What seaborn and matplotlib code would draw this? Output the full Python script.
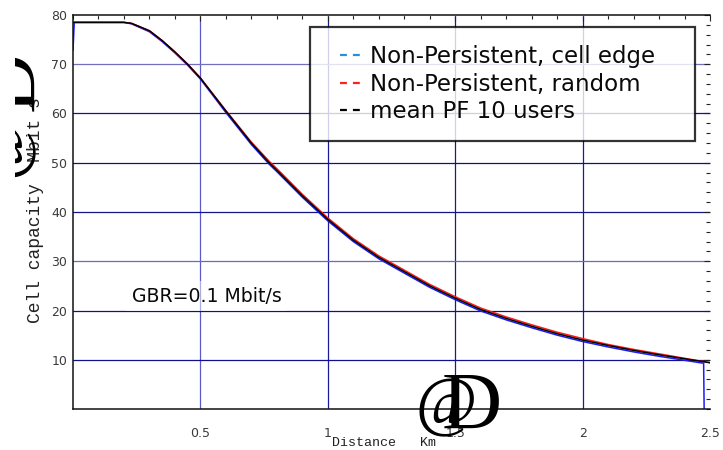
import numpy as np
import pandas as pd
import matplotlib
matplotlib.use("Agg")
import matplotlib.pyplot as plt
from matplotlib.lines import Line2D
from matplotlib.ticker import MultipleLocator, FixedLocator
from matplotlib.transforms import Bbox, TransformedBbox
import seaborn as sns

# Distance grid (km) and capacity curves (Mbit/s)
dist = [0.0, 0.1, 0.2, 0.23, 0.3, 0.35, 0.4, 0.45, 0.5, 0.6, 0.7, 0.77, 0.8,
        0.9, 1.0, 1.1, 1.2, 1.3, 1.4, 1.5, 1.6, 1.7, 1.8, 1.9, 2.0, 2.1,
        2.2, 2.3, 2.4, 2.5]
mean_pf = [78.5, 78.5, 78.5, 78.3, 76.8, 74.8, 72.5, 70.0, 67.2, 60.5, 54.0,
           50.0, 48.5, 43.3, 38.5, 34.3, 30.8, 27.9, 25.0, 22.5, 20.2, 18.4,
           16.8, 15.3, 14.0, 12.9, 11.9, 11.0, 10.2, 9.4]
np_random = [78.5, 78.5, 78.5, 78.3, 76.8, 74.8, 72.5, 70.0, 67.2, 60.6, 54.2,
             50.3, 48.8, 43.6, 38.8, 34.6, 31.1, 28.2, 25.3, 22.8, 20.5, 18.7,
             17.1, 15.6, 14.3, 13.1, 12.1, 11.2, 10.3, 9.4]
edge_dist = [0.0, 0.005, 0.1, 0.2, 0.23, 0.3, 0.35, 0.4, 0.45, 0.5, 0.6, 0.7,
             0.77, 0.8, 0.9, 1.0, 1.1, 1.2, 1.3, 1.4, 1.5, 1.6, 1.7, 1.8, 1.9,
             2.0, 2.1, 2.2, 2.3, 2.4, 2.46, 2.475, 2.477]
np_edge = [72.8, 78.5, 78.5, 78.5, 78.2, 76.6, 74.6, 72.3, 69.8, 67.0, 60.2,
           53.7, 49.7, 48.2, 43.0, 38.2, 34.0, 30.5, 27.6, 24.7, 22.2, 19.9,
           18.1, 16.5, 15.0, 13.7, 12.6, 11.6, 10.7, 9.9, 9.4, 9.3, 0.0]

labels = ["Non-Persistent, cell edge", "Non-Persistent, random", "mean PF 10 users"]
curve_colors = ["#1a1aff", "#ff1a1a", "#000000"]
legend_colors = ["#2a8fd6", "#ff2020", "#000000"]
x_ticks = [0.5, 1.0, 1.5, 2.0, 2.5]
x_ticklabels = ["0.5", "1", "1.5", "2", "2.5"]
y_ticks = [10, 20, 30, 40, 50, 60, 70, 80]

df = pd.concat([
    pd.DataFrame({"Distance": edge_dist, "Capacity": np_edge, "Scheme": labels[0]}),
    pd.DataFrame({"Distance": dist, "Capacity": np_random, "Scheme": labels[1]}),
    pd.DataFrame({"Distance": dist, "Capacity": mean_pf, "Scheme": labels[2]}),
], ignore_index=True)

sns.set_style("white")
plt.rcParams["font.family"] = ["DejaVu Sans"]

W, H = 723, 450
fig = plt.figure(figsize=(W / 100, H / 100), dpi=100)
ax = fig.add_axes([73 / W, 1 - 409 / H, (710 - 73) / W, (409 - 15) / H])

sns.lineplot(data=df, x="Distance", y="Capacity", hue="Scheme",
             hue_order=labels, palette=dict(zip(labels, curve_colors)),
             estimator=None, sort=True, linewidth=1.1, legend=False, ax=ax)

ax.set_xlim(0, 2.5)
ax.set_ylim(0, 80)
ax.xaxis.set_major_locator(FixedLocator(x_ticks))
ax.set_xticklabels(x_ticklabels)
ax.yaxis.set_major_locator(FixedLocator(y_ticks))
ax.xaxis.set_minor_locator(MultipleLocator(0.1))
ax.yaxis.set_minor_locator(MultipleLocator(2))
ax.tick_params(which="both", direction="in", top=True, right=True,
               color="#222222", width=0.8)
ax.tick_params(which="major", length=4, labelsize=9, labelcolor="#3a3a3a")
ax.tick_params(which="minor", length=3)
ax.tick_params(axis="x", which="major", pad=13)
ax.tick_params(axis="y", which="major", pad=4)
ax.set_xlabel("")
ax.set_ylabel("")

for side in ["left", "bottom", "top"]:
    ax.spines[side].set_color("#111111")
    ax.spines[side].set_linewidth(1.1)
ax.spines["right"].set_visible(False)

# Grid drawn at the major ticks in shades of navy
ax.grid(True, which="major", linewidth=0.9)
ax.set_axisbelow(True)
ygrid_colors = ["#10108a", "#10108a", "#6a6ab8", "#14148a", "#101080",
                "#14148a", "#7070bc", "#ffffff"]
for gl, c in zip(ax.yaxis.get_gridlines(), ygrid_colors):
    gl.set_color(c)
xgrid_colors = ["#5a5ac8", "#1a1a9a", "#1a1a8a", "#1a1a9a", "#ffffff"]
for gl, c in zip(ax.xaxis.get_gridlines(), xgrid_colors):
    gl.set_color(c)

# Legend keys: a blank lead-in followed by two short dashes, like a "--" mark
key_style = (0, (0.01, 5.4, 3.1, 2.7, 3.1, 50))
handles = [Line2D([], [], color=c, lw=1.6, linestyle=key_style) for c in legend_colors]
leg = ax.legend(handles, labels, loc="upper left",
                bbox_to_anchor=(310 / W, 1 - 139 / H, 385 / W, 112 / H),
                bbox_transform=fig.transFigure, mode="expand",
                borderaxespad=0, fontsize=16.5, handlelength=1.39,
                handletextpad=0.43, borderpad=0.8, labelspacing=0.19,
                fancybox=False, edgecolor="black", facecolor=(1, 1, 1, 0.6),
                framealpha=None, labelcolor="#0a0a0a")
leg.get_frame().set_linewidth(1.6)
leg.get_frame().set_edgecolor((0, 0, 0, 1))

ax.text(0.23, 22.9, "GBR=0.1 Mbit/s", fontsize=13.6, ha="left", va="center",
        color="#0a0a0a",
        bbox=dict(boxstyle="square,pad=0.3", facecolor="white", alpha=0.5,
                  edgecolor="none"))

# Axis titles
fig.text(332 / W, 1 - 446 / H, "Distance   Km", family="Liberation Mono",
         fontsize=9.6, ha="left", va="baseline", color="#222222")
fig.text(446 / W, 1 - 407 / H, "@", family="Liberation Serif", fontsize=48,
         ha="center", va="center", color="black")
fig.text(472 / W, 1 - 409 / H, "D", family="Liberation Serif", fontsize=60,
         ha="center", va="center", color="black")

fig.text(36 / W, 1 - 323 / H, "Cell capacity  Mbit s", family="Liberation Mono",
         fontsize=13, rotation=90, rotation_mode="anchor", ha="left",
         va="center", color="#222222")
left_clip = TransformedBbox(Bbox([[15 / W, 0], [1, 1]]), fig.transFigure)
t_at = fig.text(20 / W, 1 - 146 / H, "@", family="Liberation Serif", fontsize=48,
                rotation=90, rotation_mode="anchor", ha="center", va="baseline",
                color="black")
t_d = fig.text(33 / W, 1 - 81 / H, "D", family="Liberation Serif", fontsize=60,
               rotation=90, rotation_mode="anchor", ha="center", va="baseline",
               color="black")
for t in (t_at, t_d):
    t.set_clip_box(left_clip)
    t.set_clip_on(True)

fig.savefig("out.png", dpi=100)
